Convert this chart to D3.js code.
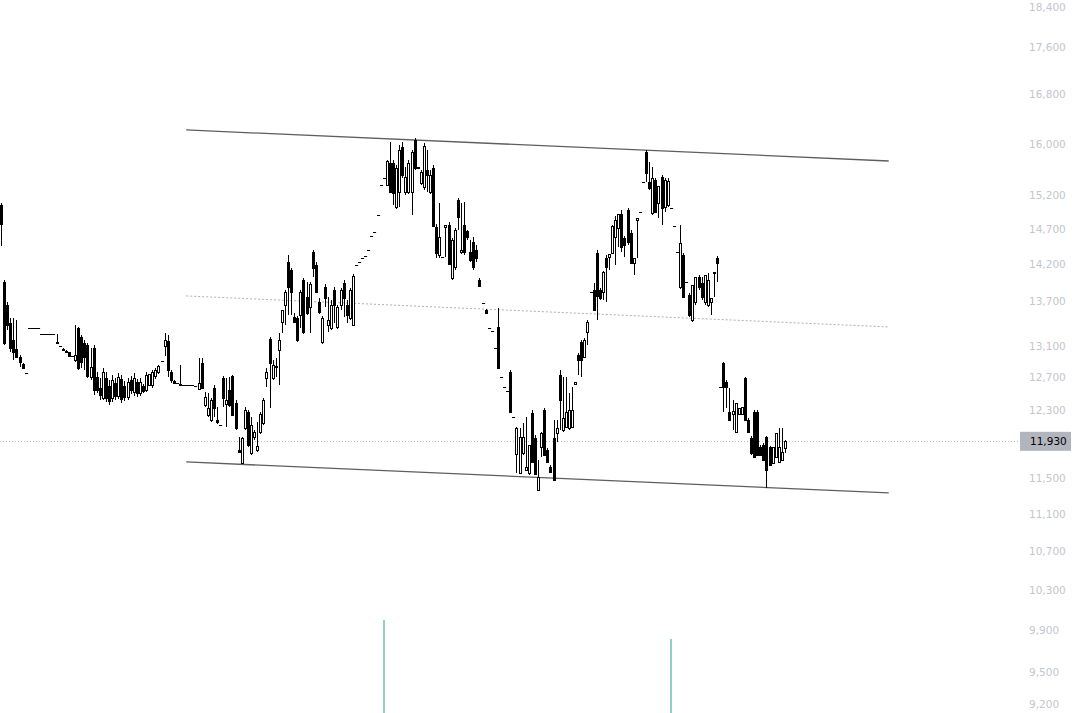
<!DOCTYPE html>
<html><head><meta charset="utf-8">
<script src="https://cdn.jsdelivr.net/npm/d3@7"></script>
<style>html,body{margin:0;padding:0;background:#fff;overflow:hidden}</style>
</head><body>
<svg id="c" width="1085" height="713"></svg>
<script>
const open = [
15059,13956,13643,13403,13180,13064,12960,12870,12760,13340,
13340,13340,13340,13260,13260,13260,13260,13260,13140,13100,
13060,13040,13025,12970,12922,13337,13219,13141,13115,12707,
13077,12707,12570,12446,12695,12595,12446,12632,12471,12682,
12595,12458,12670,12520,12645,12508,12595,12545,12610,12607,
12720,12770,12905,13102,13167,12770,12657,12630,12607,12607,
12607,12607,12600,12595,12558,12883,12360,12239,12179,12570,
12179,12120,12695,12372,12545,12720,12385,11824,11673,12083,
12275,11789,11976,11824,12035,12143,12695,13193,12695,12830,
13051,13417,13643,14234,14122,13483,13470,13510,13984,13750,
13617,14376,14192,13683,13154,13888,13377,13337,13847,13350,
13643,13943,13643,13470,13377,14192,14230,14290,14320,14400,
14600,14660,14910,15360,15470,15360,15696,15696,15029,15253,
15946,15253,15253,15253,16057,15630,15390,15329,15588,15253,
15619,14735,14333,14305,14735,14764,14012,14164,15133,14376,
14764,14677,14376,14519,14405,13984,13670,13577,13340,13300,
13080,13350,12710,12580,12530,12770,12215,11777,11557,11789,
11592,11557,12263,11964,11366,11859,12299,11824,11627,11964,
12024,12732,12059,12095,12083,12095,12620,12986,13154,12960,
13285,13820,13847,14362,13847,13820,14290,14305,14360,14590,
14720,14926,14576,14985,14648,14220,14837,14955,15405,15868,
15405,14940,15435,15088,15481,15029,15059,15010,14750,14380,
13888,14333,13960,13778,13443,13683,14026,13943,13683,13643,
13683,14081,14290,12580,12883,12645,12275,12250,12035,12251,
12251,12695,12179,11964,12275,12275,11859,11882,11976,11859,
11673,11743,11685,11708,11847];
const high = [
15088,13984,13683,13470,13470,13443,12986,12883,12765,13340,
13340,13340,13340,13260,13260,13260,13260,13260,13260,13100,
13077,13045,13030,12970,13377,13350,13245,13180,13141,13077,
13115,12770,12695,12820,12770,12670,12732,12695,12757,12732,
12657,12695,12720,12757,12682,12695,12620,12770,12745,12795,
12820,12858,12910,13272,13245,12795,12670,12630,12858,12607,
12607,12607,12600,12595,12948,12948,12520,12508,12446,12607,
12336,12120,12720,12695,12707,12732,12422,11976,11976,12336,
12299,12215,12059,12155,12275,12446,12820,13219,12922,12950,
13272,13577,13847,14333,14150,13537,13497,13847,14012,13956,
13956,14405,14234,13737,13497,13929,13750,13710,13888,13643,
13875,13984,13710,13875,14067,14192,14230,14290,14320,14400,
14600,14660,14910,15360,15470,15745,16025,15743,15665,15977,
16025,15634,15743,15899,16089,15640,15588,16009,15899,15588,
15665,14778,15088,14310,14764,14808,14576,14720,15163,15088,
15103,14691,14547,14590,14476,14012,13670,13590,13340,13300,
13080,13603,12710,12580,12530,12795,12215,12090,12083,12143,
12215,11882,12299,12000,11708,12035,12323,11847,11650,12179,
12179,12795,12707,12707,12508,12583,12645,13012,13180,13206,
13443,13820,13943,14405,13875,14108,14333,14347,14770,14896,
14926,14985,14605,15014,14691,14290,14867,14955,15405,15899,
15712,15634,15466,15344,15511,15466,15466,15010,14750,14380,
14764,14362,13960,13806,13915,14026,14053,14026,14053,14081,
13737,14095,14319,12580,12896,12670,12570,12422,12385,12323,
12336,12707,12203,11988,12299,12299,11882,11906,11988,11870,
11859,12024,12083,12083,11935];
const low = [
14462,13115,13311,13025,12922,12948,12833,12807,12755,13340,
13340,13340,13340,13260,13260,13260,13260,13260,13130,13100,
13040,13012,12970,12970,12896,12795,12820,12795,12695,12670,
12483,12508,12422,12422,12397,12360,12397,12422,12434,12385,
12409,12422,12496,12471,12458,12471,12508,12520,12600,12570,
12682,12745,12900,12973,12707,12632,12620,12630,12595,12607,
12607,12607,12600,12595,12545,12558,12336,12215,12155,12215,
12131,12120,12336,12095,12336,12227,12059,11789,11662,12059,
11859,11766,11941,11800,12012,12119,12583,12323,12670,12700,
12607,13272,13377,13510,13510,13403,13154,13337,13258,13510,
13272,14026,13806,13523,13128,13617,13285,13311,13403,13324,
13577,13483,13403,13443,13364,14192,14230,14290,14320,14400,
14600,14660,14910,15360,15470,15340,15240,15059,15000,15029,
15466,15208,15223,14911,15588,15610,15359,15283,15253,15223,
14735,14290,14290,14300,14305,14192,13984,14122,14691,14347,
14333,14547,14234,14122,14234,13888,13670,13537,13340,13300,
13080,12820,12710,12580,12530,12275,12215,11557,11546,11766,
11580,11535,11673,11535,11366,11743,11754,11673,11569,11478,
11918,12059,12035,12083,12059,12083,12607,12732,12707,12948,
13115,13820,13577,13443,13710,13710,13683,14122,14350,14192,
14448,14376,14305,14476,14220,14053,14290,14955,15405,15405,
15283,14911,14955,14867,14764,14955,15029,15010,14750,14380,
13861,13750,13960,13483,13417,13643,13847,13710,13643,13617,
13510,13750,13956,12580,12275,12323,12179,12059,12024,12239,
12239,12179,12035,11766,11743,11766,11766,11708,11389,11650,
11662,11731,11673,11696,11789];
const close = [
14778,13141,13377,13077,13025,12960,12896,12820,12758,13340,
13340,13340,13340,13260,13260,13260,13260,13260,13150,13100,
13050,13020,12975,12970,12986,12820,12896,12960,12720,12833,
12545,12545,12483,12770,12446,12409,12670,12471,12707,12434,
12458,12645,12545,12695,12508,12645,12533,12732,12740,12770,
12795,12845,12908,13180,12795,12670,12632,12630,12620,12607,
12607,12607,12600,12595,12632,12570,12458,12323,12422,12323,
12155,12120,12446,12422,12360,12239,12083,11800,11964,12299,
11882,12119,12035,11870,12251,12422,12770,12883,12858,12840,
13180,13570,13820,13888,13820,13417,13180,13820,13285,13537,
13929,14150,13820,13550,13470,13737,13443,13643,13643,13617,
13847,13737,13510,13847,14040,14192,14230,14290,14320,14400,
14600,14660,14910,15360,15470,15720,15253,15238,15619,15899,
15511,15481,15696,15868,15619,15620,15557,15961,15511,15511,
14750,14362,14590,14305,14760,14206,14547,14691,14882,14405,
14376,14590,14262,14164,14290,13902,13670,13540,13340,13300,
13080,12825,12710,12580,12530,12280,12215,12080,11976,11976,
11627,11882,11680,11540,11512,12020,11760,11680,11570,11480,
12083,12422,12203,12275,12299,12299,12645,12922,12922,13180,
13417,13820,13580,13764,13737,14100,14164,14340,14750,14837,
14920,14448,14476,14519,14225,14290,14867,14955,15405,15542,
15313,15466,14960,15344,15014,15435,15420,15010,14750,14380,
14505,13752,13960,13510,13915,14026,13888,13750,14053,13984,
13737,14095,14220,12580,12583,12583,12180,12290,12385,12323,
12336,12180,12036,11789,11745,11770,11768,11710,11592,11652,
11859,12024,11859,11800,11930];

// price axis ticks
const tickValues = [9200,9500,9900,10300,10700,11100,11500,12300,12700,13100,13700,14200,14700,15200,16000,16800,17600,18400];
const lastPrice = 11930;

// parallel channel (candle index units, prices)
const channelIdx = [60, 287.6];
const channelUpper = [16216, 15727];
const channelLower = [11684, 11332];

// volume spikes (candle index, volume in millions)
const volumeIdx = [124, 217];
const volumeVal = [9.3, 7.4];

const N = Math.min(open.length, high.length, low.length, close.length);
const svg = d3.select('#c');
const x = d3.scaleLinear().domain([0, N - 1]).range([1, 785]);
const y = d3.scaleLog().domain([9200, 18400]).range([704, 2]);
const vy = d3.scaleLinear().domain([0, 10]).range([713, 613]);

// volume
svg.append('g').selectAll('rect').data(volumeIdx).join('rect')
  .attr('x', (d) => Math.round(x(d)) - 1)
  .attr('width', 2)
  .attr('y', (d, i) => vy(volumeVal[i]))
  .attr('height', (d, i) => vy(0) - vy(volumeVal[i]))
  .attr('fill', '#8fd1c5');

// last price line
svg.append('line')
  .attr('x1', 0).attr('x2', 1018)
  .attr('y1', Math.round(y(lastPrice)) + 0.5).attr('y2', Math.round(y(lastPrice)) + 0.5)
  .attr('stroke', '#b9bcc4').attr('stroke-width', 1).attr('stroke-dasharray', '1,2');

// channel
const chG = svg.append('g');
const mid = channelUpper.map((u, i) => Math.sqrt(u * channelLower[i]));
chG.append('line')
  .attr('x1', x(channelIdx[0])).attr('x2', x(channelIdx[1]))
  .attr('y1', y(mid[0])).attr('y2', y(mid[1]))
  .attr('stroke', '#b0b0b0').attr('stroke-width', 1).attr('stroke-dasharray', '2,2');
[channelUpper, channelLower].forEach((arr) => {
  chG.append('line')
    .attr('x1', x(channelIdx[0])).attr('x2', x(channelIdx[1]))
    .attr('y1', y(arr[0])).attr('y2', y(arr[1]))
    .attr('stroke', '#5e5e5e').attr('stroke-width', 1.3);
});

// candles
const cg = svg.append('g');
const idx = d3.range(N);
idx.forEach((i) => {
  const cx = Math.round(x(i));
  const yh = y(high[i]), yl = y(low[i]);
  const yo = y(open[i]), yc = y(close[i]);
  if (yl - yh < 1.5) {
    const yy = Math.round(yc) + 0.5;
    cg.append('line').attr('x1', cx - 1).attr('x2', cx + 2.1)
      .attr('y1', yy).attr('y2', yy).attr('stroke', '#000').attr('stroke-width', 1);
    return;
  }
  cg.append('line')
    .attr('x1', cx + 0.5).attr('x2', cx + 0.5)
    .attr('y1', Math.round(yh)).attr('y2', Math.round(yl))
    .attr('stroke', '#000').attr('stroke-width', 1);
  const top = Math.round(Math.min(yo, yc));
  const bot = Math.round(Math.max(yo, yc));
  const up = close[i] >= open[i];
  cg.append('rect')
    .attr('x', cx - 0.5).attr('width', 2)
    .attr('y', top + 0.5).attr('height', Math.max(0.01, bot - top))
    .attr('fill', up ? '#fff' : '#000')
    .attr('stroke', '#000').attr('stroke-width', 1);
});

// axis labels (keep the top one inside the picture)
const fmt = d3.format(',');
svg.append('g').selectAll('text').data(tickValues).join('text')
  .attr('x', 1029).attr('y', (d) => Math.max(7, y(d)))
  .attr('dominant-baseline', 'central')
  .attr('font-family', 'DejaVu Sans, sans-serif').attr('font-size', 10.5)
  .attr('fill', '#c3c6ce')
  .text((d) => fmt(d));

// last price label
const ly = y(lastPrice);
svg.append('rect').attr('x', 1020).attr('y', ly - 9).attr('width', 51).attr('height', 19)
  .attr('fill', '#b2b5be');
svg.append('text').attr('x', 1030).attr('y', ly + 0.5)
  .attr('dominant-baseline', 'central')
  .attr('font-family', 'DejaVu Sans, sans-serif').attr('font-size', 10.5)
  .attr('fill', '#000').text(fmt(lastPrice));
</script>
</body></html>
